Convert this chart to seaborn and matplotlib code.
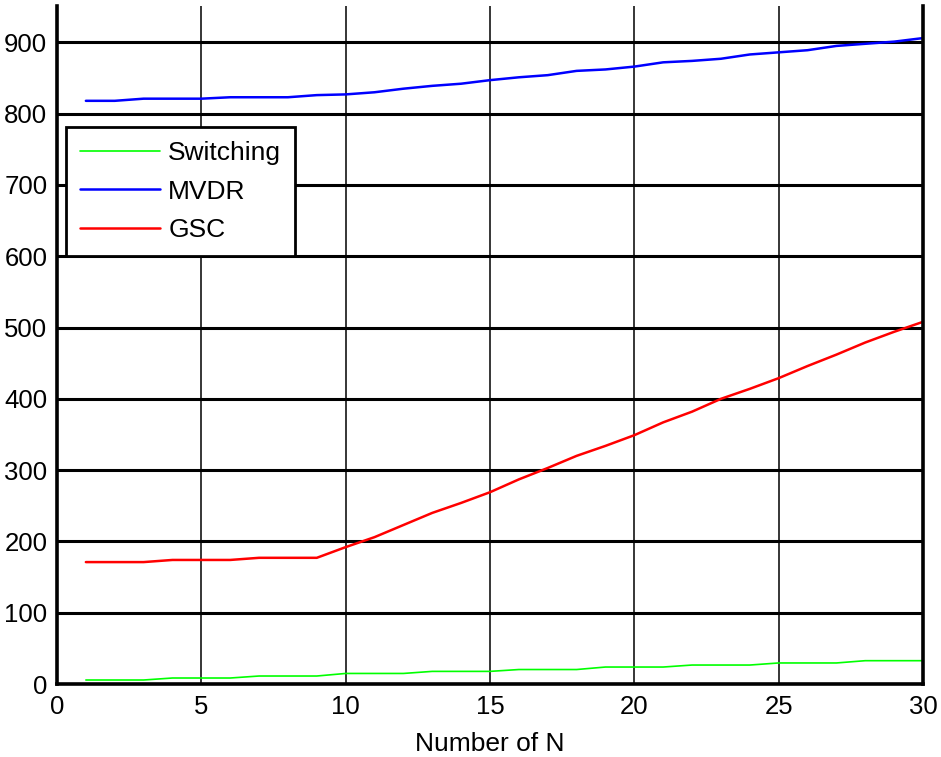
import numpy as np
import pandas as pd
import matplotlib
matplotlib.use("Agg")
import matplotlib.pyplot as plt
import seaborn as sns

# Number of N
n_values = list(range(1, 31))

switching = [5.6, 5.6, 5.6, 8.4, 8.4, 8.4, 11.2, 11.2, 11.2, 14.8,
             14.8, 14.8, 17.7, 17.7, 17.7, 20.3, 20.3, 20.3, 23.8, 23.8,
             23.8, 26.6, 26.6, 26.6, 29.5, 29.5, 29.5, 32.7, 32.7, 32.7]

mvdr = [818, 818, 821, 821, 821, 823, 823, 823, 826, 827,
        830, 835, 839, 842, 847, 851, 854, 860, 862, 866,
        872, 874, 877, 883, 886, 889, 895, 898, 901, 906]

gsc = [171, 171, 171, 174, 174, 174, 177, 177, 177, 192,
       206, 223, 240, 254, 269, 287, 303, 320, 334, 349,
       367, 382, 400, 414, 429, 446, 462, 479, 494, 508]

series_names = ["Switching", "MVDR", "GSC"]
series_colors = ["#00ff00", "#0000ff", "#ff0000"]
series_widths = [1.2, 1.8, 1.8]

x_ticks = [0, 5, 10, 15, 20, 25, 30]
y_ticks = [0, 100, 200, 300, 400, 500, 600, 700, 800, 900]

sns.set_style("white")
plt.rcParams["font.family"] = ["Liberation Sans", "DejaVu Sans"]
plt.rcParams["text.color"] = "black"

fig = plt.figure(figsize=(9.41, 7.57), dpi=100)
ax = fig.add_axes([57 / 941, 1 - 684 / 757, 866 / 941, 678 / 757])

df = pd.DataFrame({"N": n_values * 3,
                   "value": switching + mvdr + gsc,
                   "series": sum([[s] * len(n_values) for s in series_names], [])})

for name, color, lw in zip(series_names, series_colors, series_widths):
    sns.lineplot(data=df[df["series"] == name], x="N", y="value",
                 color=color, linewidth=lw, label=name, ax=ax)

ax.set_xlim(0, 30)
ax.set_ylim(0, 951)
ax.set_xticks(x_ticks)
ax.set_yticks(y_ticks)

# MATLAB-like grid: heavy horizontal lines, thin vertical ones
for yv in y_ticks[1:]:
    ax.axhline(yv, color="black", linewidth=2.2, zorder=0.5)
for xv in x_ticks[1:-1]:
    ax.axvline(xv, color="black", linewidth=1.1, zorder=0.5)

for side in ["left", "bottom", "right"]:
    ax.spines[side].set_visible(True)
    ax.spines[side].set_color("black")
    ax.spines[side].set_linewidth(2.6)
ax.spines["top"].set_visible(False)

ax.tick_params(axis="both", which="both", direction="in", length=4,
               width=1, labelsize=18.5, colors="black")
ax.tick_params(axis="y", pad=7)
ax.tick_params(axis="x", pad=8)

ax.set_xlabel("Number of N", fontsize=19, color="black", labelpad=9)
ax.set_ylabel("")

leg = ax.legend(loc="upper left", bbox_to_anchor=(0.0104, 0.8215),
                borderaxespad=0, fontsize=19, handlelength=3.05,
                handletextpad=0.3, labelspacing=0.56, borderpad=0.52,
                frameon=True, fancybox=False, edgecolor="black",
                labelcolor="black")
leg.get_frame().set_linewidth(2.0)
leg.get_frame().set_facecolor("white")
leg.get_frame().set_alpha(1)

fig.savefig("out.png", dpi=100, facecolor="white")
